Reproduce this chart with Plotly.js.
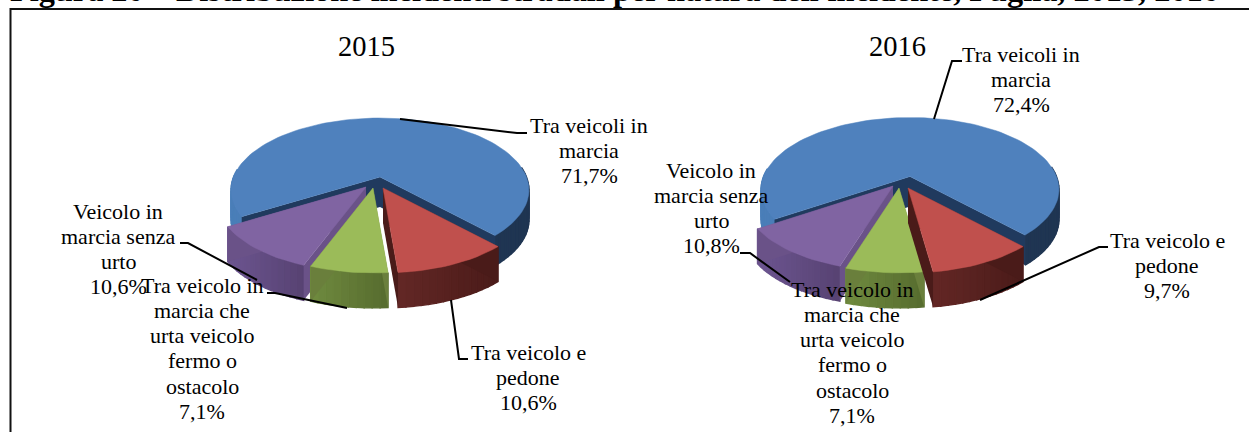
<!DOCTYPE html>
<html><head><meta charset="utf-8">
<script src="https://cdn.plot.ly/plotly-3.0.1.min.js"></script>
<style>html,body{margin:0;padding:0;background:#fff}#c{width:1249px;height:432px}</style></head>
<body><div id="c"></div>
<script>
const categories = ["Tra veicoli in marcia","Tra veicolo e pedone","Tra veicolo in marcia che urta veicolo fermo o ostacolo","Veicolo in marcia senza urto"];
const values2015 = [71.7,10.6,7.1,10.6];
const values2016 = [72.4,9.7,7.1,10.8];
const topColors = ["#4F81BD","#C0504D","#9BBB59","#8064A2"];
const wallLeft  = ["#4A7EB8","#632725","#6F8A3F","#6C5590"];
const wallRight = ["#1F3552","#4A1B19","#566B2E","#574272"];
const innerColors = ["#203A5E","#4A1B19","#6A7F3C","#6A5288"];
const drawOrder = [0,3,2,1];
const depths = [30,35,35,35];
const R=146.5,H=69.6,K=0.18;
function proj(c,th){const s=Math.sin(th),co=Math.cos(th),w=1+K*co;return [c[0]+R*s/w,c[1]-H*co/w,co];}
function color(a,b,t){const p=h=>[1,3,5].map(i=>parseInt(h.substr(i,2),16));const A=p(a),B=p(b);return 'rgb('+A.map((v,i)=>Math.round(v+(B[i]-v)*t)).join(',')+')';}
function poly(xs,ys,col,w){return {type:'scatter',mode:'lines',x:xs,y:ys,fill:'toself',fillcolor:col,line:{color:col,width:w===undefined?1.4:w},hoverinfo:'skip',showlegend:false};}
function pie(values,firstEnd,centers){
  const traces=[];
  const total=values.reduce((a,b)=>a+b,0);
  let ang=firstEnd; const spans=[];
  spans[0]=[firstEnd-values[0]/total*360,firstEnd];
  for(let i=1;i<values.length;i++){const d=values[i]/total*360;spans[i]=[ang,ang+d];ang+=d;}
  drawOrder.forEach(i=>{
    const c=centers[i],a0=spans[i][0]*Math.PI/180,a1=spans[i][1]*Math.PI/180,D=depths[i];
    const n=Math.max(8,Math.round((spans[i][1]-spans[i][0])/2.5));
    const pts=[];for(let k=0;k<=n;k++)pts.push(proj(c,a0+(a1-a0)*k/n));
    const ap=[c[0],c[1]];
    const xmin=Math.min(...pts.map(p=>p[0])),xmax=Math.max(...pts.map(p=>p[0]));
    for(let k=0;k<n;k++){
      const p=pts[k],q=pts[k+1]; if(p[2]>0.1&&q[2]>0.1)continue;
      const t=i===0?(((p[0]+q[0])/2<c[0])?0:1):(((p[0]+q[0])/2-xmin)/(xmax-xmin||1));
      traces.push(poly([p[0],q[0],q[0],p[0],p[0]],[p[1],q[1],q[1]+D,p[1]+D,p[1]],color(wallLeft[i],wallRight[i],t)));
    }
    [pts[0],pts[n]].forEach(p=>{
      traces.push(poly([ap[0],p[0],p[0],ap[0],ap[0]],[ap[1],p[1],p[1]+D,ap[1]+D,ap[1]],innerColors[i],0));});
    traces.push(poly([ap[0],...pts.map(p=>p[0]),ap[0]],[ap[1],...pts.map(p=>p[1]),ap[1]],topColors[i],0.5));
  });
  return traces;
}
const traces=[...pie(values2015,137,[[380,177],[383,188],[373,188],[366,187]]),
              ...pie(values2016,137,[[910,176.5],[908,188],[899,188],[893,186]])];
const FONT={family:'"Liberation Serif",serif',color:'#000'};
function pct(v){return v.toFixed(1).replace('.',',')+'%';}
const labelLines=[["Tra veicoli in","marcia"],["Tra veicolo e","pedone"],["Tra veicolo in","marcia che","urta veicolo","fermo o","ostacolo"],["Veicolo in","marcia senza","urto"]];
const LINE=25.3;
function label(lines,val,x,y){return [...lines,pct(val)].map((t,i)=>({xref:'x',yref:'y',x:x,y:y+i*LINE,xanchor:'center',yanchor:'middle',showarrow:false,align:'center',
  text:t,font:{...FONT,size:22}}));}
const annotations=[
 {xref:'x',yref:'paper',x:8,y:1-10/432,xanchor:'left',yanchor:'bottom',showarrow:false,font:{...FONT,size:32.3},
  text:"<b>Figura 20 – Distribuzione incidenti stradali per natura dell'incidente, Puglia, 2015, 2016</b>"},
 {xref:'x',yref:'y',x:366,y:46,xanchor:'center',yanchor:'middle',showarrow:false,text:'2015',font:{...FONT,size:28.5}},
 {xref:'x',yref:'y',x:897,y:46,xanchor:'center',yanchor:'middle',showarrow:false,text:'2016',font:{...FONT,size:28.5}},
 ...label(labelLines[0],values2015[0],589,125),
 ...label(labelLines[1],values2015[1],528,352),
 ...label(labelLines[2],values2015[2],202,285),
 ...label(labelLines[3],values2015[3],118,211),
 ...label(labelLines[0],values2016[0],1021,54),
 ...label(labelLines[1],values2016[1],1167,240),
 ...label(labelLines[2],values2016[2],852,289),
 ...label(labelLines[3],values2016[3],711,170)
];
function path(pts){return {type:'path',xref:'x',yref:'y',layer:'above',line:{color:'#000',width:2},fillcolor:'rgba(0,0,0,0)',
  path:'M'+pts.map(p=>p.join(',')).join('L')};}
const shapes=[
 path([[400,119],[517,133],[527,133]]),
 path([[451,300],[459,359],[468,359]]),
 path([[347,308],[275,293],[267,293]]),
 path([[257,280],[188,243],[180,243]]),
 path([[934,119],[952,61],[962,61]]),
 path([[980,300],[1099,247],[1108,247]]),
 path([[790,282],[750,253],[740,253]]),
 {type:'path',xref:'x',yref:'y',layer:'above',line:{color:'#111',width:2},path:'M10.5,440L10.5,9L1260,9'}
];
Plotly.newPlot('c',traces,{
  width:1249,height:432,margin:{l:0,r:0,t:0,b:0},paper_bgcolor:'#fff',plot_bgcolor:'#fff',showlegend:false,
  xaxis:{range:[0,1249],visible:false,fixedrange:true},
  yaxis:{range:[432,0],visible:false,fixedrange:true},
  annotations,shapes
},{displayModeBar:false,staticPlot:true});
</script></body></html>
